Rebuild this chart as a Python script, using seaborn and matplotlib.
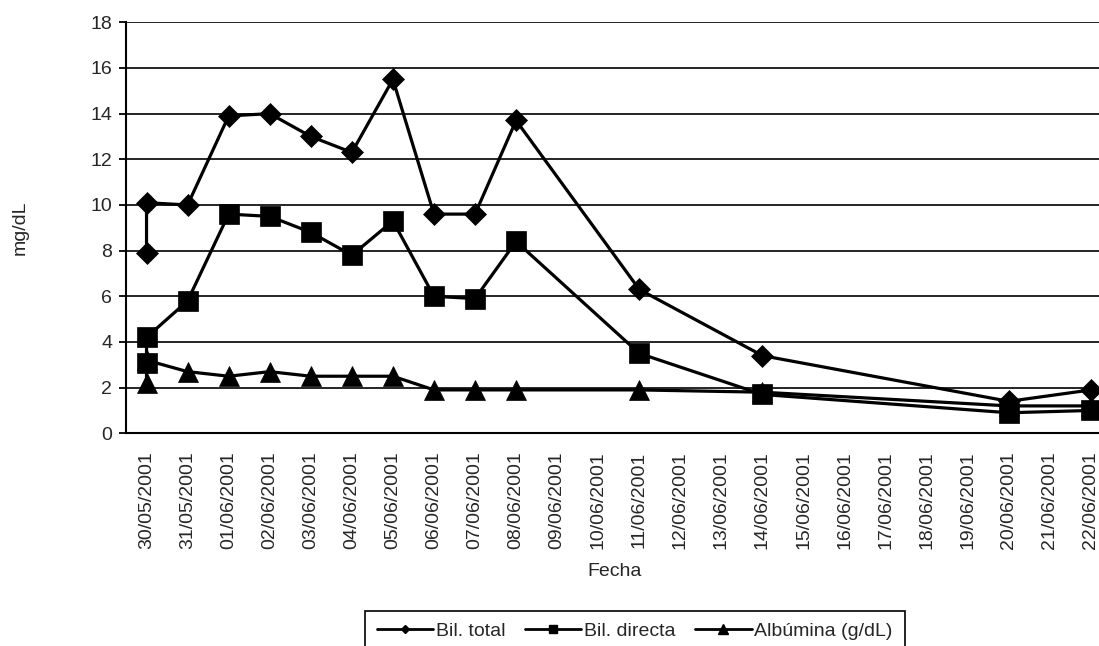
import matplotlib
matplotlib.use("Agg")
import matplotlib.pyplot as plt
from matplotlib.lines import Line2D
import numpy as np
import pandas as pd
import seaborn as sns

# Axis categories (one per calendar day)
fechas = [
    "30/05/2001", "31/05/2001", "01/06/2001", "02/06/2001", "03/06/2001",
    "04/06/2001", "05/06/2001", "06/06/2001", "07/06/2001", "08/06/2001",
    "09/06/2001", "10/06/2001", "11/06/2001", "12/06/2001", "13/06/2001",
    "14/06/2001", "15/06/2001", "16/06/2001", "17/06/2001", "18/06/2001",
    "19/06/2001", "20/06/2001", "21/06/2001", "22/06/2001",
]

# Sampling days (30/05 was measured twice)
fechas_muestra = [
    "30/05/2001", "30/05/2001", "31/05/2001", "01/06/2001", "02/06/2001",
    "03/06/2001", "04/06/2001", "05/06/2001", "06/06/2001", "07/06/2001",
    "08/06/2001", "11/06/2001", "14/06/2001", "20/06/2001", "22/06/2001",
]

bil_total = [7.9, 10.1, 10.0, 13.9, 14.0, 13.0, 12.3, 15.5, 9.6, 9.6, 13.7, 6.3, 3.4, 1.4, 1.9]
bil_directa = [3.1, 4.2, 5.8, 9.6, 9.5, 8.8, 7.8, 9.3, 6.0, 5.9, 8.4, 3.5, 1.7, 0.9, 1.0]
albumina = [2.2, 3.2, 2.7, 2.5, 2.7, 2.5, 2.5, 2.5, 1.9, 1.9, 1.9, 1.9, 1.8, 1.2, 1.2]

series_nombres = ["Bil. total", "Bil. directa", "Albúmina (g/dL)"]
y_ticks = list(range(0, 19, 2))

sns.set_style("white")
plt.rcParams["font.family"] = ["Liberation Sans", "DejaVu Sans"]
plt.rcParams["font.size"] = 14

pos = [fechas.index(f) for f in fechas_muestra]
df = pd.DataFrame({
    "pos": pos * 3,
    "valor": bil_total + bil_directa + albumina,
    "serie": [series_nombres[0]] * len(pos) + [series_nombres[1]] * len(pos) + [series_nombres[2]] * len(pos),
})

W, H = 1099, 646
fig = plt.figure(figsize=(W / 100, H / 100), dpi=100)
ax = fig.add_axes([126 / W, 1 - 433.3 / H, (1111.5 - 126) / W, (433.3 - 22.3) / H])

ax.yaxis.grid(True, color="black", linewidth=1.2)
ax.set_axisbelow(True)

estilos = {
    series_nombres[2]: dict(marker="^", markersize=15),
    series_nombres[1]: dict(marker="s", markersize=14.5),
    series_nombres[0]: dict(marker="D", markersize=11),
}
for nombre in [series_nombres[2], series_nombres[1], series_nombres[0]]:
    sub = df[df["serie"] == nombre]
    sns.lineplot(
        data=sub, x="pos", y="valor", ax=ax, estimator=None, sort=False,
        color="black", linewidth=2.3, legend=False,
        markeredgecolor="black", markeredgewidth=0.5,
        **estilos[nombre],
    )

ax.set_xlim(-0.5, len(fechas) - 0.5)
ax.set_ylim(0, 18)
ax.set_yticks(y_ticks)
ax.set_xticks(range(len(fechas)))
ax.set_xticklabels(fechas, rotation=90)
ax.set_xticks(np.arange(-0.5, len(fechas), 1), minor=True)
ax.tick_params(axis="x", which="major", length=0, pad=13)
ax.tick_params(axis="x", which="minor", length=5, width=1.3, color="black", direction="out")
ax.tick_params(axis="y", length=5, width=1.3, color="black", direction="out", pad=5, left=True)
ax.set_xlabel("")
ax.set_ylabel("")

for lado in ["top", "right"]:
    ax.spines[lado].set_visible(False)
for lado in ["left", "bottom"]:
    ax.spines[lado].set_color("black")
    ax.spines[lado].set_linewidth(1.5)

fig.text(20 / W, 1 - 228 / H, "mg/dL", rotation=90, ha="center", va="center")
fig.text(615 / W, 1 - 572 / H, "Fecha", ha="center", va="center")

handles = [
    Line2D([], [], color="black", lw=2, marker="D", markersize=4.5),
    Line2D([], [], color="black", lw=2, marker="s", markersize=6),
    Line2D([], [], color="black", lw=2, marker="^", markersize=7),
]
leg = fig.legend(
    handles, series_nombres, loc="upper left", bbox_to_anchor=(365 / W, 1 - 611 / H),
    ncol=3, frameon=True, fancybox=False, edgecolor="black", framealpha=1,
    handlelength=2.9, handletextpad=0.15, columnspacing=1.0, borderpad=0.6,
    borderaxespad=0,
)
leg.get_frame().set_linewidth(1.2)

fig.savefig("out.png", dpi=100)
